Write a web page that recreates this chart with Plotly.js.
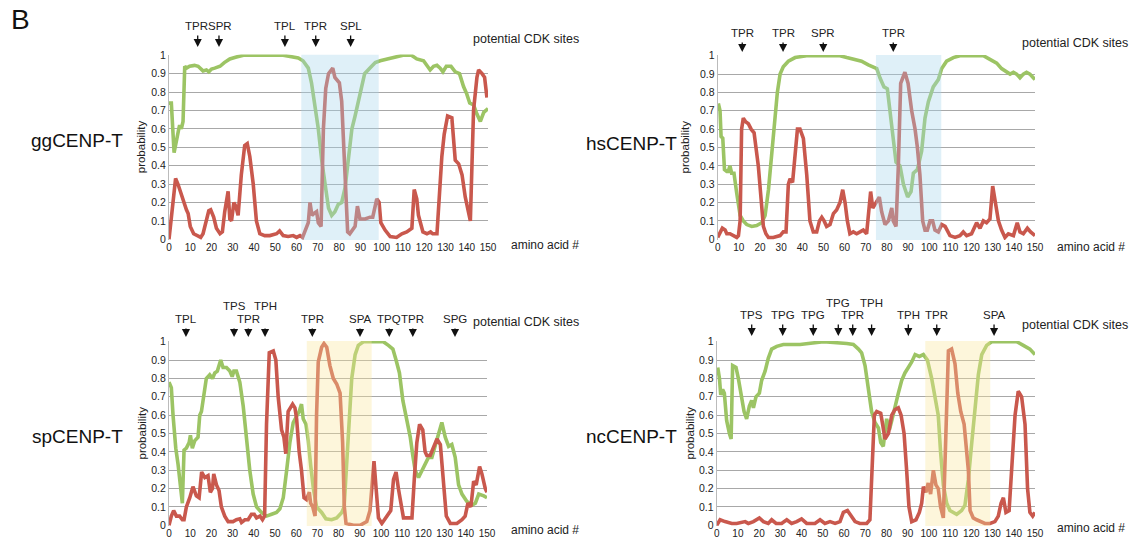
<!DOCTYPE html>
<html><head><meta charset="utf-8">
<script src="https://cdn.plot.ly/plotly-3.0.1.min.js"></script>
<style>body{margin:0;background:#fff}#chart{width:1130px;height:542px}</style>
</head><body><div id="chart"></div>
<script>
// ---------- data ----------
const panelNames = ["ggCENP-T", "hsCENP-T", "spCENP-T", "ncCENP-T"];

// ggCENP-T
const gg_green_x = [0,1.1,2.4,3.5,4.6,5,5.8,6.6,7.4,8.2,9.7,12,13.7,16,17.6,18.7,20,21.5,24,26,28.6,31.7,35,53.7,58.4,60.8,63,65.5,67,68.6,70.2,71.8,73.3,75,76.5,78,79.6,81.2,82.8,84.3,86,87.5,89,90.6,92,94.5,97,99.3,102.4,105.5,110,114,116.5,119.7,122.8,124.4,126,127.5,128.8,130.4,132.6,134.6,136.6,138.5,140,141.4,143.2,144.8,146.4,148,150];
const gg_green_y = [0.74,0.74,0.47,0.55,0.6,0.62,0.6,0.64,0.94,0.93,0.94,0.945,0.94,0.915,0.92,0.91,0.925,0.93,0.94,0.96,0.98,0.99,1,1,0.99,0.985,0.97,0.93,0.85,0.72,0.6,0.43,0.3,0.17,0.13,0.15,0.19,0.2,0.28,0.42,0.6,0.67,0.75,0.84,0.9,0.93,0.96,0.97,0.98,0.99,1,1,0.98,0.97,0.92,0.94,0.945,0.93,0.91,0.94,0.94,0.91,0.9,0.83,0.79,0.74,0.73,0.68,0.64,0.69,0.71];
const gg_red_x = [0,1.9,3.1,4.2,5,6.6,8.2,9,10,11.6,13.7,14.9,16,17.3,18.7,19.6,21,22.3,24,25.1,26.2,27.8,28.6,29.4,30.5,31.4,32.5,34,35.6,36.8,38,39.6,41.1,42.7,45,47.4,50.6,52,53.7,56,58.4,60,61.6,62.8,64.4,65.5,66.3,67.2,68.2,69.4,70.2,71.5,72.6,73.7,75,77,78,80.1,81.2,82.3,83.2,84,85,87.5,88.6,89.8,92.2,94.5,95.8,97.7,98.8,99.6,101.6,104,107,109.5,111.8,114.2,115.3,116.5,117.3,118.1,119.4,121.3,123,124,126,128.3,129.4,131,133,134.6,136.2,137.8,139.3,141.7,143.2,144.8,145.6,147.2,148.4,149.5];
const gg_red_y = [0,0.2,0.33,0.3,0.27,0.22,0.16,0.14,0.07,0.03,0.015,0.01,0.03,0.1,0.155,0.16,0.12,0.06,0.03,0.04,0.15,0.26,0.11,0.1,0.2,0.18,0.13,0.35,0.51,0.52,0.45,0.3,0.1,0.03,0.02,0.02,0.03,0.045,0.02,0.015,0.02,0.01,0.02,0.01,0.06,0.09,0.2,0.13,0.14,0.15,0.09,0.07,0.6,0.82,0.9,0.93,0.88,0.85,0.75,0.5,0.25,0.04,0.03,0.07,0.18,0.11,0.11,0.12,0.12,0.22,0.2,0.09,0.05,0.015,0.01,0.03,0.04,0.06,0.27,0.22,0.13,0.1,0.04,0.03,0.04,0.03,0.03,0.45,0.57,0.67,0.66,0.43,0.41,0.35,0.23,0.1,0.7,0.88,0.92,0.9,0.88,0.77];

// hsCENP-T
const hs_green_x = [0.3,1.1,1.6,2.4,3.2,4.3,5,5.8,6.6,7.7,9,10.6,12.1,13.7,16.1,18.4,20.8,22.4,24,25.5,27.1,28.2,29.5,31,33.4,36.6,42,57.8,61,64.1,68,71.2,73.6,75.2,76.7,78.6,80.2,81.5,83,84.3,86.2,87.8,89.8,91.4,92.5,94.4,96.4,98,99.6,101.9,104.3,105.9,108.2,111.4,114.5,125.6,128.7,131.9,134.2,136.6,138.2,139.8,141.3,142.9,144.5,146,147.6,149.2,150];
const hs_green_y = [0.74,0.7,0.56,0.55,0.38,0.37,0.37,0.4,0.36,0.36,0.25,0.13,0.1,0.08,0.07,0.075,0.09,0.13,0.27,0.45,0.66,0.8,0.9,0.94,0.97,0.99,1,1,0.99,0.98,0.97,0.95,0.935,0.93,0.88,0.83,0.82,0.7,0.55,0.42,0.4,0.3,0.23,0.26,0.36,0.38,0.48,0.66,0.75,0.83,0.87,0.93,0.97,0.99,1,1,0.98,0.96,0.93,0.91,0.9,0.91,0.9,0.88,0.9,0.91,0.9,0.88,0.87];
const hs_red_x = [0,1.1,2.2,3.5,4.3,5.8,7.4,9,9.8,10.6,11.3,12.1,13.2,14.5,15.8,17.2,19.2,20.5,21.6,22.8,24,26.3,29.5,31,32.3,33.4,34.2,35.4,36.6,37.7,38.9,40.5,42.1,43.6,45.2,46.8,48.1,49.2,50.3,51.5,53.1,54.7,56.2,57.8,59.1,60.2,61.3,62.5,64.1,65.7,67.3,68.8,70.4,72.3,73.3,75.2,76.4,77.5,79.1,80.7,82.3,83,84.3,85.4,86.5,88.5,90,91.7,93.3,94.4,95.6,96.9,98,99.1,100.4,101.6,102.7,104.3,105.9,107.5,109.8,112.2,114.5,116.1,117.7,120,122.4,124,125.6,127.1,128.7,130,131.1,132.7,134.2,135.8,137.4,139.8,141.6,142.9,144.5,146.4,147.9,150];
const hs_red_y = [0.01,0.04,0.06,0.05,0.03,0.03,0.02,0.01,0.02,0.1,0.6,0.66,0.64,0.63,0.6,0.58,0.4,0.2,0.07,0.03,0.01,0.01,0.02,0.04,0.04,0.3,0.33,0.31,0.45,0.6,0.6,0.55,0.35,0.1,0.04,0.04,0.1,0.12,0.1,0.07,0.08,0.14,0.16,0.2,0.27,0.2,0.1,0.03,0.04,0.03,0.04,0.05,0.03,0.26,0.17,0.21,0.23,0.15,0.08,0.1,0.17,0.1,0.07,0.4,0.85,0.91,0.85,0.7,0.6,0.5,0.35,0.1,0.05,0.05,0.1,0.1,0.05,0.04,0.08,0.07,0.02,0.01,0.02,0.04,0.02,0.03,0.09,0.06,0.1,0.09,0.11,0.29,0.2,0.1,0.05,0.01,0.03,0.02,0.09,0.04,0.03,0.06,0.04,0.02];

// spCENP-T
const sp_green_x = [0,1.1,1.9,3.2,4.3,5.4,6.3,7.1,8.2,9.5,10.1,11,12.1,13.7,14.5,15.3,16.4,17.6,19.2,20.5,21.6,22.8,24.4,25.5,27.1,28.7,29.8,30.6,31.8,33.4,35,36.6,38.1,39.7,41.3,43.6,46,48.4,50.7,52.3,53.9,55.5,57,58.6,60.2,61.4,62.5,63.3,64.6,65.7,66.8,68.1,69.6,72,74,76.7,79.1,81.5,82.6,83.8,85.1,86.2,87.8,89.3,91.7,101.1,103.5,105.6,107.1,108.7,110.3,112.2,113.8,115,116.1,117.7,119.3,120.8,122.4,124,125.6,127.1,128.7,130.3,131.9,133.4,135,136.6,138.2,140.5,142.9,144.5,146.1,148.5,150];
const sp_green_y = [0.78,0.75,0.6,0.42,0.33,0.2,0.12,0.41,0.42,0.45,0.49,0.42,0.46,0.48,0.6,0.62,0.72,0.8,0.82,0.8,0.83,0.84,0.9,0.86,0.86,0.84,0.81,0.84,0.84,0.78,0.65,0.47,0.3,0.17,0.1,0.07,0.05,0.06,0.07,0.09,0.15,0.3,0.45,0.56,0.6,0.62,0.66,0.58,0.55,0.46,0.33,0.2,0.1,0.07,0.035,0.03,0.04,0.07,0.1,0.35,0.62,0.8,0.93,0.98,1,1,0.98,0.96,0.9,0.83,0.68,0.58,0.48,0.38,0.3,0.26,0.3,0.33,0.37,0.37,0.44,0.5,0.56,0.48,0.43,0.44,0.37,0.22,0.17,0.13,0.11,0.12,0.17,0.16,0.15];
const sp_red_x = [0,1.1,2.2,3.5,5,6.3,7.1,8.2,9.8,11.3,12.9,14.2,15.4,16.9,18.4,19.5,20.5,21.1,22.4,23.6,24.7,26.3,27.9,30.2,31.8,33.4,34.2,35.8,37.3,38.9,40.2,41.3,42.9,44.1,45.1,46,47.3,49.2,50.4,51.5,53.1,54.2,55.1,56.2,58.3,59.4,60.2,61.4,62.5,63.7,64.9,66.2,66.8,67.8,68.9,69.6,70.4,72,73.1,74.4,75.9,77.5,79.1,80.7,81.9,82.7,83.5,87,90.1,93.3,94.8,95.6,96.7,97.7,98.8,100.4,102.7,104.6,105.9,107.1,108.2,109.3,110.6,113,114.6,115.7,116.9,118.2,119.7,120.8,121.6,123.2,124.8,126.4,128,129.5,130.8,132.7,135.8,138.2,139.7,141,142.4,143.7,144.9,146.5,147.6,149.2,150];
const sp_red_y = [0,0.05,0.08,0.05,0.05,0.03,0.03,0.1,0.15,0.21,0.16,0.15,0.29,0.26,0.27,0.18,0.2,0.28,0.22,0.19,0.1,0.05,0.02,0.02,0.03,0.035,0.015,0.03,0.03,0.06,0.06,0.04,0.05,0.03,0.05,0.55,0.94,0.95,0.9,0.7,0.52,0.48,0.39,0.62,0.66,0.64,0.58,0.4,0.3,0.15,0.14,0.18,0.12,0.1,0.05,0.6,0.89,0.97,0.99,0.97,0.87,0.8,0.77,0.72,0.45,0.1,0.01,0,0,0.02,0.08,0.2,0.35,0.2,0.04,0.01,0.05,0.08,0.25,0.29,0.2,0.12,0.04,0.04,0.04,0.25,0.45,0.55,0.52,0.4,0.38,0.38,0.42,0.47,0.44,0.25,0.05,0.01,0.01,0.03,0.05,0.12,0.1,0.24,0.22,0.32,0.28,0.2,0.18];

// ncCENP-T
const nc_green_x = [0.5,1.3,1.9,2.8,3.6,4.7,6,6.8,7.5,9.1,10.2,11.8,12.9,14.1,15.4,16.5,17.3,18.5,20.1,21.2,22.8,24.3,25.9,28.3,31.4,39.3,44,50.3,61.3,64.4,66.8,68.3,69.9,71.5,73,74.6,76.2,77.3,78.5,80.1,81.4,82.5,84,85.6,87.2,88.7,90.3,91.9,93.5,95.5,97.4,99.3,101.3,102.9,104.4,105.5,106.8,108.4,109.9,113.1,115.4,117,118.6,120.2,121.7,123.3,124.9,127.2,129.6,141.4,144.5,147.6,150];
const nc_green_y = [0.86,0.8,0.71,0.74,0.72,0.57,0.5,0.47,0.87,0.86,0.8,0.7,0.62,0.58,0.65,0.68,0.64,0.7,0.72,0.79,0.84,0.91,0.96,0.975,0.985,0.985,0.99,1,0.99,0.985,0.96,0.94,0.87,0.75,0.62,0.56,0.53,0.45,0.43,0.58,0.52,0.57,0.65,0.72,0.79,0.83,0.86,0.89,0.93,0.92,0.93,0.9,0.8,0.7,0.6,0.4,0.22,0.12,0.08,0.06,0.08,0.11,0.25,0.45,0.65,0.82,0.93,0.98,1,1,0.98,0.96,0.93];
const nc_red_x = [0,1.6,3.9,7.1,9.4,11.8,13.4,14.9,17.3,20.1,22,24.3,25.9,28,30.6,33,35.3,37.7,40,42.4,46.3,48.7,51,53.4,55.8,58.1,59.7,61.6,63.6,65.2,67.5,70.7,72.2,73.3,74.3,75.4,77.3,78.2,79.3,80.9,82.5,84,85.6,86.9,88.3,89.5,90.6,91.9,93.9,95.5,96.6,97.4,98.6,99.7,100.8,102.1,103.3,104.4,105.5,106.8,108.1,109.2,110.7,112.3,113.6,115,116.6,117.8,118.6,119.4,120.9,122.5,124.1,126.4,128.8,131.1,132.7,134,135.1,136.3,137.8,139,140.6,142.1,143.7,145.3,146.5,147.6,148.9,150];
const nc_red_y = [0,0.03,0.02,0.01,0.01,0.015,0.02,0.01,0.02,0.04,0.02,0.01,0.03,0.01,0.01,0.03,0.01,0.02,0.035,0.01,0.01,0.03,0.01,0.02,0.01,0.02,0.07,0.08,0.05,0.02,0.01,0.01,0.03,0.3,0.6,0.62,0.61,0.55,0.47,0.5,0.6,0.63,0.64,0.6,0.5,0.3,0.1,0.02,0.03,0.07,0.12,0.21,0.18,0.23,0.17,0.3,0.22,0.2,0.1,0.04,0.5,0.95,0.96,0.88,0.72,0.62,0.55,0.4,0.3,0.08,0.04,0.03,0.02,0.01,0.01,0.02,0.05,0.12,0.15,0.07,0.08,0.3,0.6,0.73,0.7,0.55,0.2,0.07,0.05,0.07];

// potential CDK sites (labels, positions in amino acids, label tier: 0 low, 1 high)
const gg_sites = ["TPR","SPR","TPL","TPR","SPL"];
const gg_sitePos = [13.5,23.5,54.5,69,85.4];
const gg_siteTier = [0,0,0,0,0];
const hs_sites = ["TPR","TPR","SPR","TPR"];
const hs_sitePos = [11.6,30.9,49.9,83];
const hs_siteTier = [0,0,0,0];
const sp_sites = ["TPL","TPS","TPR","TPH","TPR","SPA","TPQ","TPR","SPG"];
const sp_sitePos = [8,30.7,37.4,45.3,67.6,90.1,103.9,115,134.9];
const sp_siteTier = [0,1,0,1,0,0,0,0,0];
const nc_sites = ["TPS","TPG","TPG","TPG","TPR","TPH","TPH","TPR","SPA"];
const nc_sitePos = [16.5,31.1,45.5,57.3,64.1,73,90.3,103.7,130.7];
const nc_siteTier = [0,0,0,1,0,1,0,0,0];

// highlighted regions [start, end] in amino acids
const gg_region = [62.2, 98.6];
const hs_region = [74.8, 105.7];
const sp_region = [65, 95.6];
const nc_region = [98.3, 128.9];

const xTicks = [0,10,20,30,40,50,60,70,80,90,100,110,120,130,140,150];
const yTicks = [0,0.1,0.2,0.3,0.4,0.5,0.6,0.7,0.8,0.9,1];

// ---------- layout geometry ----------
const W = 1130, H = 542;
const px = v => v / W, py = v => 1 - v / H;
const GREEN = "#9cc464", RED = "#c9584d";
const FONT = "Liberation Sans, Arial, Helvetica, sans-serif";
const LABEL_W = 23.5; // approx pixel width of a site label

const panels = [
  {gx: gg_green_x, gy: gg_green_y, rx: gg_red_x, ry: gg_red_y, sites: gg_sites, pos: gg_sitePos, tier: gg_siteTier, region: gg_region, shade: "#a6d6ec",
   x0: 169, x1: 488, y0: 54.5, y1: 240, tip: 47, lab: 26, up: 14, name: [77, 141], prob: 141, cdk: [526, 39], aa: [545, 245]},
  {gx: hs_green_x, gy: hs_green_y, rx: hs_red_x, ry: hs_red_y, sites: hs_sites, pos: hs_sitePos, tier: hs_siteTier, region: hs_region, shade: "#a6d6ec",
   x0: 717.7, x1: 1035, y0: 55, y1: 240, tip: 52, lab: 33, up: 21, name: [631, 143], prob: 685, cdk: [1075, 43], aa: [1091, 247]},
  {gx: sp_green_x, gy: sp_green_y, rx: sp_red_x, ry: sp_red_y, sites: sp_sites, pos: sp_sitePos, tier: sp_siteTier, region: sp_region, shade: "#f9e59b",
   x0: 169, x1: 487, y0: 341, y1: 526, tip: 337, lab: 319, up: 306, name: [77, 436], prob: 141, cdk: [526, 322], aa: [545, 530]},
  {gx: nc_green_x, gy: nc_green_y, rx: nc_red_x, ry: nc_red_y, sites: nc_sites, pos: nc_sitePos, tier: nc_siteTier, region: nc_region, shade: "#f9e59b",
   x0: 716.7, x1: 1035, y0: 341, y1: 526, tip: 336, lab: 315, up: 303, name: [631, 436], prob: 689, cdk: [1075, 325], aa: [1091, 528]}
];

const data = [], shapes = [], annotations = [];
const layout = {
  width: W, height: H, margin: {l: 0, r: 0, t: 0, b: 0},
  paper_bgcolor: "#fff", plot_bgcolor: "rgba(0,0,0,0)", showlegend: false,
  font: {family: FONT, color: "#222"}
};

panels.forEach((p, i) => {
  const n = i + 1, xa = "x" + (n > 1 ? n : ""), ya = "y" + (n > 1 ? n : "");
  const xk = "xaxis" + (n > 1 ? n : ""), yk = "yaxis" + (n > 1 ? n : "");
  layout[xk] = {domain: [px(p.x0), px(p.x1)], range: [0, 150], anchor: ya,
    tickvals: xTicks, ticktext: xTicks.map(String), showgrid: false, zeroline: false, showline: false,
    ticks: "", ticklen: 0, tickfont: {size: 10, color: "#222", family: FONT}, fixedrange: true};
  layout[yk] = {domain: [py(p.y1), py(p.y0)], range: [-0.004, 1.004], anchor: xa,
    tickvals: yTicks, ticktext: yTicks.map(v => String(v)), showgrid: true, gridcolor: "#a8a8a8", gridwidth: 1,
    zeroline: false, showline: true, linecolor: "#bbbbbb", linewidth: 1,
    ticks: "", tickfont: {size: 10.5, color: "#222", family: FONT}, fixedrange: true};
  data.push({x: p.gx, y: p.gy, xaxis: xa, yaxis: ya, type: "scatter", mode: "lines",
    line: {color: GREEN, width: 3.6}, hoverinfo: "skip"});
  data.push({x: p.rx, y: p.ry, xaxis: xa, yaxis: ya, type: "scatter", mode: "lines",
    line: {color: RED, width: 3.6}, hoverinfo: "skip"});
  shapes.push({type: "rect", xref: xa, yref: ya, x0: p.region[0], x1: p.region[1], y0: -0.004, y1: 1.004,
    fillcolor: p.shade, opacity: 0.36, line: {width: 0}, layer: "above"});

  // label pixel positions, nudged apart when neighbours in the same tier would touch
  const scale = (p.x1 - p.x0) / 150;
  const lx = p.pos.map(v => p.x0 + v * scale);
  for (let k = 1; k < lx.length; k++) {
    for (let j = k - 1; j >= 0; j--) {
      if (p.tier[j] !== p.tier[k]) continue;
      const gap = lx[k] - lx[j];
      if (gap < LABEL_W) { const d = (LABEL_W - gap) / 2; lx[j] -= d; lx[k] += d; }
      break;
    }
  }
  const arrowStart = p.lab + 8;
  p.sites.forEach((s, k) => {
    annotations.push({xref: xa, yref: "paper", x: p.pos[k], y: py(p.tip), ax: 0, ay: -(p.tip - arrowStart),
      text: "", showarrow: true, arrowhead: 2, arrowsize: 1.25, arrowwidth: 1.3, arrowcolor: "#111", standoff: 0});
    const ty = p.tier[k] ? p.up : p.lab;
    annotations.push({xref: "paper", yref: "paper", x: px(lx[k]), y: py(ty), text: s, showarrow: false,
      xanchor: "center", yanchor: "middle", font: {size: 11.5, color: "#222", family: FONT}, borderpad: 0});
  });
  annotations.push({xref: "paper", yref: "paper", x: px(p.name[0]), y: py(p.name[1]), text: panelNames[i],
    showarrow: false, font: {size: 19, color: "#111", family: FONT}, xanchor: "center", yanchor: "middle"});
  annotations.push({xref: "paper", yref: "paper", x: px(p.prob), y: py((p.y0 + p.y1) / 2), text: "probability",
    textangle: -90, showarrow: false, font: {size: 11.5, color: "#222", family: FONT}, xanchor: "center", yanchor: "middle"});
  annotations.push({xref: "paper", yref: "paper", x: px(p.cdk[0]), y: py(p.cdk[1]), text: "potential CDK sites",
    showarrow: false, font: {size: 12.5, color: "#222", family: FONT}, xanchor: "center", yanchor: "middle"});
  annotations.push({xref: "paper", yref: "paper", x: px(p.aa[0]), y: py(p.aa[1]), text: "amino acid #",
    showarrow: false, font: {size: 12, color: "#222", family: FONT}, xanchor: "center", yanchor: "middle"});
});
annotations.push({xref: "paper", yref: "paper", x: px(20), y: py(20), text: "B", showarrow: false,
  font: {size: 28, color: "#111", family: FONT}, xanchor: "center", yanchor: "middle"});
layout.shapes = shapes;
layout.annotations = annotations;

Plotly.newPlot("chart", data, layout, {staticPlot: true, displayModeBar: false});
</script></body></html>
